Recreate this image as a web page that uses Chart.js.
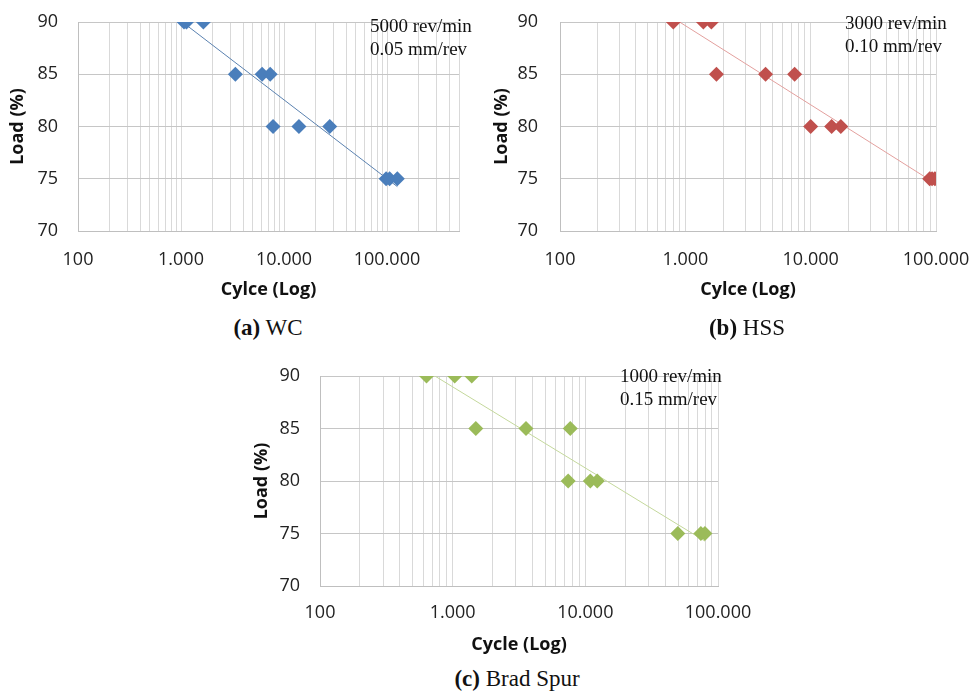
<!DOCTYPE html>
<html>
<head>
<meta charset="utf-8">
<script src="https://cdn.jsdelivr.net/npm/chart.js@4"></script>
<style>
  body { margin: 0; background: #fff; }
  #page { position: relative; width: 973px; height: 693px; overflow: hidden; }
  canvas { position: absolute; }
  .note { position: absolute; font-family: "Liberation Serif", "Times New Roman", serif; font-size: 19px; line-height: 23px; color: #111; white-space: nowrap; }
  .cap { position: absolute; font-family: "Liberation Serif", "Times New Roman", serif; font-size: 23px; color: #111; white-space: nowrap; transform: translateX(-50%); }
  .cap b { font-weight: bold; }
</style>
</head>
<body>
<div id="page">
  <canvas id="chartA" width="480" height="310" style="left:0;top:0"></canvas>
  <canvas id="chartB" width="493" height="310" style="left:480px;top:0"></canvas>
  <canvas id="chartC" width="520" height="320" style="left:240px;top:345px"></canvas>

  <div class="note" style="left:370px;top:14px">5000 rev/min<br>0.05 mm/rev</div>
  <div class="note" style="left:845px;top:11px">3000 rev/min<br>0.10 mm/rev</div>
  <div class="note" style="left:620px;top:364px">1000 rev/min<br>0.15 mm/rev</div>

  <div class="cap" style="left:268px;top:315px"><b>(a)</b> WC</div>
  <div class="cap" style="left:747px;top:315px"><b>(b)</b> HSS</div>
  <div class="cap" style="left:517px;top:666px"><b>(c)</b> Brad Spur</div>
</div>

<script>
// data
const loadLevels = [90, 90, 90, 85, 85, 85, 80, 80, 80, 75, 75, 75];

const wcCycles   = [1070, 1130, 1650, 3370, 6130, 7340, 7830, 13960, 27800, 98000, 106000, 126000];
const hssCycles  = [802, 1393, 1614, 1770, 4365, 7450, 10000, 14700, 17400, 89000, 93000, 98000];
const bradCycles = [635, 1036, 1393, 1494, 3570, 7700, 7430, 10900, 12300, 49800, 74300, 79700];

const decadeLabels = { 100: '100', 1000: '1.000', 10000: '10.000', 100000: '100.000' };
const loadTicks = [70, 75, 80, 85, 90];

// log trendline like excel: y = a*ln(x) + b
function trend(xs, ys) {
    const lx = xs.map(Math.log);
    const n = xs.length;
    const mx = lx.reduce((s, v) => s + v, 0) / n;
    const my = ys.reduce((s, v) => s + v, 0) / n;
    let sxy = 0, sxx = 0;
    lx.forEach((v, i) => { sxy += (v - mx) * (ys[i] - my); sxx += (v - mx) * (v - mx); });
    const a = sxy / sxx, b = my - a * mx;
    const x0 = Math.min(...xs), x1 = Math.max(...xs);
    return [{x: x0, y: a * Math.log(x0) + b}, {x: x1, y: a * Math.log(x1) + b}];
}

function gridValues(max) {
    const vals = [];
    for (let d = 100; d <= max; d *= 10) {
        for (let k = 1; k <= 9; k++) {
            if (d * k <= max) vals.push(d * k);
        }
    }
    return vals;
}

function makeChart(id, cycles, color, trendColor, xMax, xTitle, opts) {
    const ctx = document.getElementById(id).getContext('2d');
    const pts = cycles.map((c, i) => ({x: c, y: loadLevels[i]}));
    return new Chart(ctx, {
        type: 'scatter',
        data: {
            datasets: [{
                data: pts,
                pointStyle: 'rectRot',
                pointRadius: 7.5,
                pointHoverRadius: 7.5,
                backgroundColor: color,
                borderColor: color,
                borderWidth: 0,
                order: 1
            }, {
                type: 'line',
                data: trend(cycles, loadLevels),
                borderColor: trendColor,
                borderWidth: 1,
                pointRadius: 0,
                fill: false,
                order: 2
            }]
        },
        options: {
            responsive: false,
            animation: false,
            events: [],
            layout: { padding: { left: 0, top: opts.top, right: opts.right, bottom: 0 } },
            plugins: { legend: { display: false }, tooltip: { enabled: false } },
            scales: {
                x: {
                    type: 'logarithmic',
                    min: 100,
                    max: xMax,
                    afterBuildTicks: (scale) => {
                        scale.ticks = gridValues(xMax).map(v => ({value: v}));
                    },
                    afterFit: (scale) => {
                        scale.height = opts.xh;
                        scale.paddingLeft = 0;
                        scale.paddingRight = 0;
                    },
                    grid: { color: '#d9d9d9', drawTicks: false, lineWidth: 1 },
                    border: { color: '#bfbfbf' },
                    ticks: {
                        autoSkip: false,
                        maxRotation: 0,
                        padding: opts.xpad,
                        color: '#222',
                        font: { family: 'Open Sans', size: 18 },
                        callback: (v) => decadeLabels[v] || ''
                    },
                    title: {
                        display: true,
                        text: xTitle,
                        color: '#111',
                        font: { family: 'Open Sans', size: 18, weight: 'bold' },
                        padding: { top: 0, bottom: 9 }
                    }
                },
                y: {
                    min: 70,
                    max: 90,
                    afterBuildTicks: (scale) => {
                        scale.ticks = loadTicks.map(v => ({value: v}));
                    },
                    afterFit: (scale) => {
                        scale.width = opts.yw;
                        scale.paddingTop = 0;
                        scale.paddingBottom = 0;
                    },
                    grid: { color: '#c6c6c6', drawTicks: false },
                    border: { color: '#bfbfbf' },
                    ticks: {
                        padding: opts.ypad,
                        color: '#222',
                        font: { family: 'Open Sans', size: 18 }
                    },
                    title: {
                        display: true,
                        text: 'Load (%)',
                        color: '#111',
                        font: { family: 'Open Sans', size: 18, weight: 'bold' },
                        padding: { top: opts.ytp, bottom: 0 }
                    }
                }
            }
        }
    });
}

makeChart('chartA', wcCycles, '#4a7ebb', '#5b82b0', 500000, 'Cylce (Log)',
    { top: 22, right: 21, xh: 79, xpad: 18, yw: 78, ypad: 20, ytp: 7 });
makeChart('chartB', hssCycles, '#c0504d', '#e3a09e', 100000, 'Cylce (Log)',
    { top: 22, right: 37, xh: 79, xpad: 18, yw: 80, ypad: 22, ytp: 11 });
makeChart('chartC', bradCycles, '#9bbb59', '#c4d89c', 100000, 'Cycle (Log)',
    { top: 31, right: 42, xh: 79, xpad: 16, yw: 80, ypad: 20, ytp: 11 });
</script>
</body>
</html>
